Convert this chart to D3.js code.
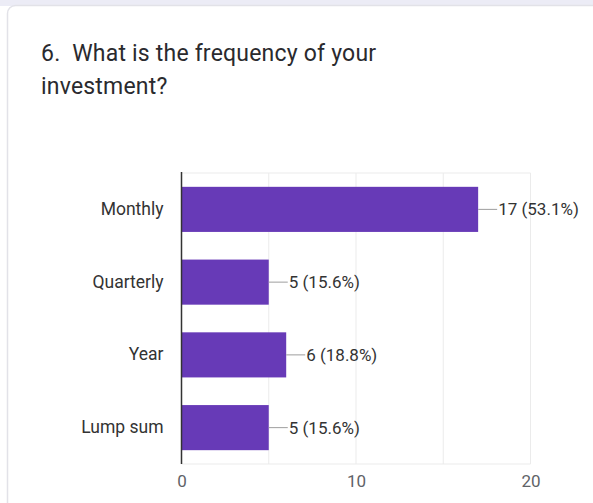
<!DOCTYPE html>
<html>
<head>
<meta charset="utf-8">
<script src="https://cdn.jsdelivr.net/npm/d3@7"></script>
<style>
  html, body { margin: 0; padding: 0; background: #ffffff; }
  svg { display: block; font-family: Roboto, "Noto Sans", Arial, sans-serif; }
  .title { white-space: pre; }
</style>
</head>
<body>
<svg id="chart" width="593" height="503"></svg>
<script>
// Survey question and responses
const questionLines = ["6.  What is the frequency of your", "investment?"];
const categories = ["Monthly", "Quarterly", "Year", "Lump sum"];
const counts = [17, 5, 6, 5];
const percents = ["53.1%", "15.6%", "18.8%", "15.6%"];
const gridTicks = [0, 5, 10, 15, 20];
const labelTicks = [0, 10, 20];

const svg = d3.select("#chart");
const W = 593, H = 503;

// page strip and card
svg.append("rect").attr("x", 0).attr("y", 0).attr("width", W).attr("height", 6).attr("fill", "#ececf6");
svg.append("rect")
  .attr("x", 7.5).attr("y", 5.5).attr("width", W + 20).attr("height", H + 20)
  .attr("rx", 8).attr("fill", "#ffffff").attr("stroke", "#e2e2e8").attr("stroke-width", 1.5);

// question title
svg.append("g").selectAll("text").data(questionLines).join("text")
  .attr("class", "title")
  .attr("x", 41).attr("y", (d, i) => 61 + i * 33)
  .attr("fill", "#2a2a2e").attr("font-size", 23).attr("letter-spacing", 0.2)
  .text(d => d);

const x = d3.scaleLinear().domain([0, 20]).range([181.5, 530.5]);
const y = d3.scaleBand().domain(categories).range([173, 464]).paddingInner(0.38).paddingOuter(0.19);

// grid frame
svg.append("g").selectAll("line").data(gridTicks.filter(t => t > 0)).join("line")
  .attr("x1", d => x(d)).attr("x2", d => x(d)).attr("y1", 173).attr("y2", 464)
  .attr("stroke", "#ebebeb").attr("stroke-width", 1);
svg.append("line").attr("x1", x(0)).attr("x2", x(20)).attr("y1", 173).attr("y2", 173).attr("stroke", "#ebebeb");
svg.append("line").attr("x1", x(0)).attr("x2", x(20)).attr("y1", 464).attr("y2", 464).attr("stroke", "#ebebeb");

const rows = categories.map((c, i) => ({ cat: c, value: counts[i], pct: percents[i] }));

// bars
svg.append("g").selectAll("rect").data(rows).join("rect")
  .attr("x", x(0)).attr("y", d => y(d.cat))
  .attr("width", d => x(d.value) - x(0)).attr("height", y.bandwidth())
  .attr("fill", "#673ab7");

// zero axis line
svg.append("line").attr("x1", x(0)).attr("x2", x(0)).attr("y1", 172).attr("y2", 464)
  .attr("stroke", "#333333").attr("stroke-width", 1.5);

// value leaders and labels
const lab = svg.append("g");
lab.selectAll("line").data(rows).join("line")
  .attr("x1", d => x(d.value)).attr("x2", d => x(d.value) + 19)
  .attr("y1", d => y(d.cat) + y.bandwidth() / 2).attr("y2", d => y(d.cat) + y.bandwidth() / 2)
  .attr("stroke", "#9e9e9e").attr("stroke-width", 1);
lab.selectAll("text").data(rows).join("text")
  .attr("x", d => x(d.value) + 20).attr("y", d => y(d.cat) + y.bandwidth() / 2)
  .attr("dy", "0.35em").attr("font-size", 17).attr("fill", "#333333")
  .text(d => `${d.value} (${d.pct})`);

// category axis
const yAxis = svg.append("g").attr("transform", `translate(${x(0) - 18},0)`)
  .call(d3.axisLeft(y).tickSize(0).tickPadding(0));
yAxis.select(".domain").remove();
yAxis.selectAll("text").attr("font-size", 17.5).attr("fill", "#333333").attr("font-family", "Roboto, sans-serif");

// value axis
const xAxis = svg.append("g").attr("transform", "translate(0,464)")
  .call(d3.axisBottom(x).tickValues(labelTicks).tickFormat(d3.format("d")).tickSize(0).tickPadding(11));
xAxis.select(".domain").remove();
xAxis.selectAll("text").attr("font-size", 17).attr("fill", "#5f6368").attr("font-family", "Roboto, sans-serif");
</script>
</body>
</html>
